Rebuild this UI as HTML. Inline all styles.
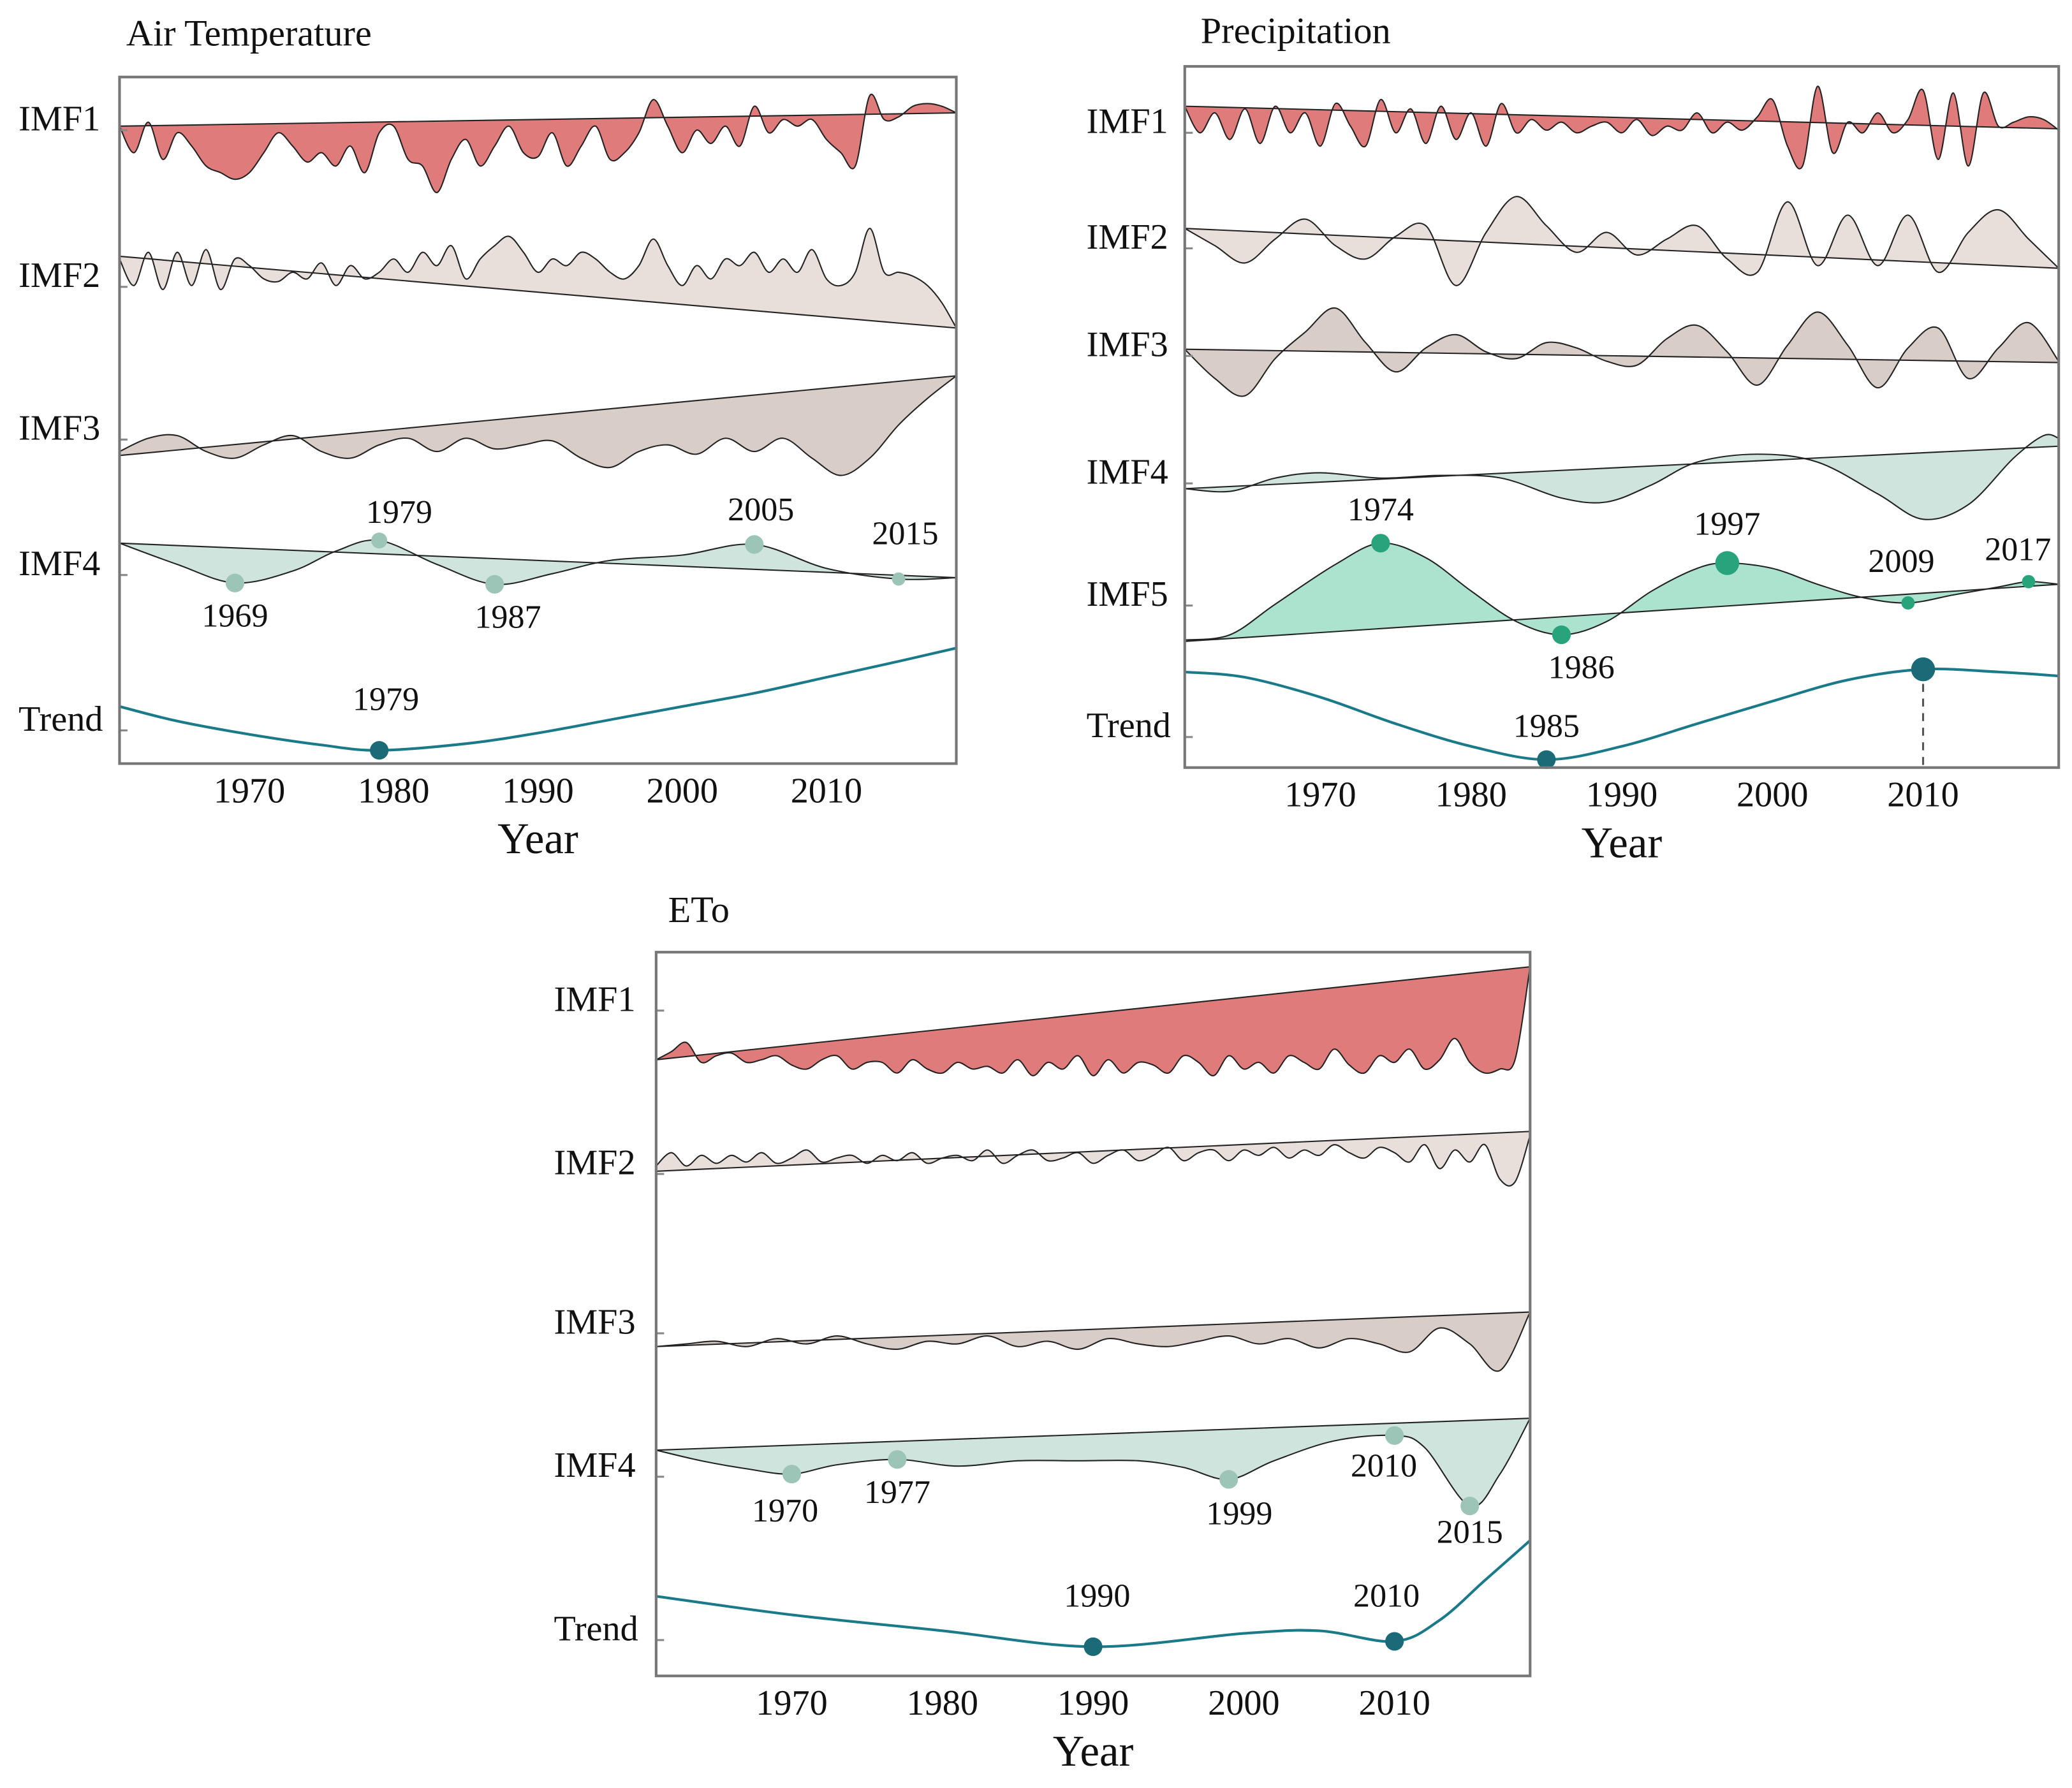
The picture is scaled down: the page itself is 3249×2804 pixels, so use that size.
<!DOCTYPE html>
<html><head><meta charset="utf-8"><style>
html,body{margin:0;padding:0;background:#fff;}
svg{display:block;}
text{font-family:"Liberation Serif",serif;fill:#111;}
</style></head><body>
<svg id="chart" width="3249" height="2804" viewBox="0 0 1560 1346.4" preserveAspectRatio="none" xmlns="http://www.w3.org/2000/svg"></svg>
<script>
// ---------- DATA ----------
const yearsAnnual = Array.from({length:59},(_,i)=>1961+i);
const yearsBiennial = Array.from({length:30},(_,i)=>1961+2*i);
const xTickYears = [1970,1980,1990,2000,2010];

// Air temperature
const atImf1 = [5,-15,8,-20,0,-10,-25,-30,-35,-30,-15,0,-10,-22,-15,-25,-10,-30,0,5,-20,-25,-45,-20,-5,-25,-10,5,-15,-18,0,-25,-10,5,-20,-15,0,25,5,-15,2,-8,5,-10,20,0,10,5,10,-5,-15,-25,28,10,12,20,22,20,15];
const atImf1Trend = [5,15];
const atImf2 = [5,-15,10,-18,10,-15,12,-18,5,0,-10,-12,-5,-10,2,-15,0,-10,-5,5,-5,10,0,15,-10,5,15,22,10,-5,5,0,10,5,-5,-10,0,20,0,-15,0,-10,5,0,10,-5,5,-5,12,-10,-15,-5,28,-5,-5,-8,-15,-28,-47];
const atImf2Trend = [7,-47];
const atImf3 = [-20,-10,-8,-20,-25,-15,-8,-20,-25,-15,-10,-20,-10,-18,-15,-12,-25,-32,-20,-15,-22,-10,-20,-10,-25,-38,-25,0,20,37];
const atImf3Trend = [-23,37];
const atImf4Years = [1961,1965,1969,1973,1976,1979,1983,1987,1991,1995,2000,2005,2010,2015,2019];
const atImf4 = [11,-5,-19,-10,5,13,-5,-20,-12,-2,2,10,-8,-16,-15];
const atImf4Trend = [11,-15];
const atTrendYears = [1961,1965,1970,1975,1979,1985,1990,1995,2000,2005,2010,2015,2019];
const atTrend = [8,-3,-13,-21,-25,-20,-12,-2,8,18,30,42,52];

// Precipitation
const prImf1 = [10,-10,5,-15,8,-18,10,-10,5,-20,12,-5,-20,15,-10,8,-18,10,-15,5,-20,12,-10,0,-8,-2,-10,-5,-2,-10,0,-12,-5,-8,5,-10,-2,-8,2,15,-20,-35,25,-25,-2,-10,5,-10,0,22,-30,20,-35,20,-5,-2,2,0,-8];
const prImf1Trend = [10,-7];
const prImf2 = [8,-5,-18,0,15,-5,-15,2,10,-35,5,32,10,-10,5,-12,0,10,-15,-25,28,-20,18,-20,18,-25,5,22,0,-22];
const prImf2Trend = [8,-22];
const prImf3 = [2,-20,-33,-5,15,33,7,-15,3,13,0,-5,7,3,-7,-10,10,20,0,-25,5,30,5,-27,3,18,-20,3,22,-7];
const prImf3Trend = [2,-8];
const prImf4Years = [1961,1964,1967,1970,1974,1978,1982,1986,1989,1992,1995,1999,2003,2007,2010,2013,2016,2018,2019];
const prImf4 = [-8,-10,0,4,0,2,0,-15,-18,-5,12,18,12,-12,-31,-20,15,32,30];
const prImf4Trend = [-8,24];
const prImf5Years = [1961,1964,1967,1971,1974,1977,1980,1983,1986,1989,1992,1995,1997,2000,2003,2006,2009,2012,2015,2017,2019];
const prImf5 = [-32,-28,-5,25,41,30,5,-18,-28,-18,5,22,26,22,10,0,-4,2,8,12,10];
const prImf5Trend = [-33,10];
const prTrendYears = [1961,1965,1970,1975,1980,1985,1990,1995,2000,2005,2010,2015,2019];
const prTrend = [34,30,15,-5,-22,-32,-22,-5,12,28,36,34,31];

// ETo
const etImf1 = [-28,-22,-15,-30,-25,-23,-30,-28,-25,-32,-35,-28,-25,-35,-30,-30,-38,-28,-35,-38,-30,-35,-33,-38,-28,-40,-30,-35,-25,-40,-28,-38,-30,-32,-38,-25,-30,-40,-25,-35,-30,-38,-25,-30,-35,-20,-32,-38,-25,-30,-20,-35,-28,-12,-30,-38,-35,-28,42];
const etImf1Trend = [-28,42];
const etImf2 = [-8,2,-8,0,-6,0,-5,2,-6,-2,4,-5,-2,0,-6,0,-4,2,-6,-2,0,-4,4,-6,0,4,-4,-2,2,-6,0,4,-4,0,6,-4,2,4,-4,4,0,6,-2,4,0,8,2,-2,6,2,-5,8,-10,4,-5,8,-18,-20,15];
const etImf2Trend = [-12,18];
const etImf3 = [-14,-12,-10,-14,-8,-12,-6,-12,-16,-10,-12,-6,-14,-10,-16,-8,-12,-14,-10,-6,-12,-8,-15,-8,-12,-18,0,-12,-32,12];
const etImf3Trend = [-14,12];
const etImf4Years = [1961,1964,1967,1970,1973,1977,1981,1985,1989,1993,1996,1999,2002,2006,2010,2012,2015,2017,2019];
const etImf4 = [8,0,-6,-10,-3,1,-4,0,0,0,-5,-14,0,15,19,10,-34,-10,32];
const etImf4Trend = [8,32];
const etTrendYears = [1961,1970,1980,1990,2000,2005,2010,2013,2016,2019];
const etTrend = [18,4,-8,-20,-10,-8,-16,0,30,60];

// ---------- DRAWING ----------
const NS="http://www.w3.org/2000/svg";
const svg=document.getElementById('chart');
function mk(tag,attrs,parent){const e=document.createElementNS(NS,tag);for(const k in attrs)e.setAttribute(k,attrs[k]);(parent||svg).appendChild(e);return e;}
function txt(s,x,y,size,anchor,parent){const t=mk('text',{x:x,y:y,'font-size':size,'text-anchor':anchor||'start','dominant-baseline':'middle'},parent);t.textContent=s;return t;}
function spline(pts){
  let d='M'+pts[0][0].toFixed(2)+','+pts[0][1].toFixed(2);
  for(let i=0;i<pts.length-1;i++){
    const p0=pts[Math.max(0,i-1)],p1=pts[i],p2=pts[i+1],p3=pts[Math.min(pts.length-1,i+2)];
    const c1=[p1[0]+(p2[0]-p0[0])/6,p1[1]+(p2[1]-p0[1])/6];
    const c2=[p2[0]-(p3[0]-p1[0])/6,p2[1]-(p3[1]-p1[1])/6];
    d+='C'+c1[0].toFixed(2)+','+c1[1].toFixed(2)+' '+c2[0].toFixed(2)+','+c2[1].toFixed(2)+' '+p2[0].toFixed(2)+','+p2[1].toFixed(2);
  }
  return d;
}
function panel(cfg){
  const g=mk('g',{});
  
  
  const xS=yr=>cfg.x0+(yr-1961)*(cfg.x1-cfg.x0)/58;
  const title=txt(cfg.title,cfg.titleX,cfg.titleY,28,'start',g);
  
  
  cfg.bands.forEach(b=>{
    const yS=v=>b.center-v*(b.k||1);
    const pts=b.values.map((v,i)=>[xS(b.years[i]),yS(v)]);
    const bx0=xS(1961),bx1=xS(2019),by0=yS(b.trend?b.trend[0]:0),by1=yS(b.trend?b.trend[1]:0);
    if(b.fill){
      const f=mk('path',{d:spline(pts)+'L'+bx1+','+by1+'L'+bx0+','+by0+'Z',fill:b.fill,stroke:'none'},g);
      
      
      const bl=mk('line',{x1:bx0,y1:by0,x2:bx1,y2:by1,stroke:'#222','stroke-width':1},g);
      
      
    }
    const ln=mk('path',{d:spline(pts),fill:'none',stroke:b.stroke||'#222','stroke-width':b.sw||1},g);
    
    
    const lab=txt(b.label,cfg.labelX,b.labelY,27,'start',g);
    
    
    const tk=mk('line',{x1:cfg.x0,x2:cfg.x0+6,y1:b.labelY+6,y2:b.labelY+6,stroke:'#888','stroke-width':1.5},g);
    
    
    (b.marks||[]).forEach(m=>{
      const i=b.years.indexOf(m.yr);
      const cx=xS(m.yr),cy=yS(b.values[i]);
      if(m.dash){const dl=mk('line',{x1:cx,x2:cx,y1:cy,y2:cfg.y1,stroke:'#555','stroke-width':1.5,'stroke-dasharray':'6,5'},g);
        }
      const c=mk('circle',{cx:cx,cy:cy,r:m.r||7,fill:b.markColor},g);
      
      
      if(!m.noLabel){
        const ml=txt(String(m.yr),cx+(m.dx||0),cy+m.dy,25,'middle',g);
        
        
      }
    });
  });
  const fr=mk('rect',{x:cfg.x0,y:cfg.y0,width:cfg.x1-cfg.x0,height:cfg.y1-cfg.y0,fill:'none',stroke:'#777','stroke-width':2},g);
  
  
  xTickYears.forEach(yr=>{
    const t=txt(String(yr),xS(yr),cfg.y1+23,27,'middle',g);
    
    
  });
  const xt=txt('Year',(cfg.x0+cfg.x1)/2,cfg.y1+60,33,'middle',g);
  
  
}
const RED='#e07b7b',L1='#e8dfdb',L2='#d8cdc7',GL='#cfe4dd',MINT='#acE3cf',TEAL='#1b7a89',DOT='#1a6a78',LG='#9cc5b8',GR='#28a47c';

panel({name:'air-temperature',title:'Air Temperature',titleX:95,titleY:28,x0:90,x1:720,y0:58,y1:575,labelX:14,bands:[
 {label:'IMF1',labelY:92,center:100,years:yearsAnnual,values:atImf1,trend:atImf1Trend,fill:RED},
 {label:'IMF2',labelY:210,center:200,years:yearsAnnual,values:atImf2,trend:atImf2Trend,fill:L1},
 {label:'IMF3',labelY:325,center:320,years:yearsBiennial,values:atImf3,trend:atImf3Trend,fill:L2},
 {label:'IMF4',labelY:427,center:420,years:atImf4Years,values:atImf4,trend:atImf4Trend,fill:GL,markColor:LG,marks:[
   {yr:1969,dy:27},{yr:1979,dy:-19,dx:15,r:6},{yr:1987,dy:27,dx:10},{yr:2005,dy:-24,dx:5},{yr:2015,dy:-32,dx:5,r:5}]},
 {label:'Trend',labelY:544,center:540,years:atTrendYears,values:atTrend,stroke:TEAL,sw:2,markColor:DOT,marks:[{yr:1979,dy:-36,dx:5}]}
]});
panel({name:'precipitation',title:'Precipitation',titleX:904,titleY:26,x0:892,x1:1550,y0:50,y1:578,labelX:818,bands:[
 {label:'IMF1',labelY:94,center:90,years:yearsAnnual,values:prImf1,trend:prImf1Trend,fill:RED},
 {label:'IMF2',labelY:181,center:180,years:yearsBiennial,values:prImf2,trend:prImf2Trend,fill:L1},
 {label:'IMF3',labelY:262,center:265,years:yearsBiennial,values:prImf3,trend:prImf3Trend,fill:L2},
 {label:'IMF4',labelY:358,center:360,years:prImf4Years,values:prImf4,trend:prImf4Trend,fill:GL},
 {label:'IMF5',labelY:450,center:450,years:prImf5Years,values:prImf5,trend:prImf5Trend,fill:MINT,markColor:GR,marks:[
   {yr:1974,dy:-23},{yr:1986,dy:27,dx:15},{yr:1997,dy:-27,r:9},{yr:2009,dy:-29,dx:-5,r:5},{yr:2017,dy:-22,dx:-8,r:5}]},
 {label:'Trend',labelY:549,center:540,years:prTrendYears,values:prTrend,stroke:TEAL,sw:2,markColor:DOT,marks:[{yr:1985,dy:-23},{yr:2010,dy:0,r:9,dash:true,noLabel:true}]}
]});
panel({name:'eto',title:'ETo',titleX:503,titleY:688,x0:494,x1:1152,y0:717,y1:1262,labelX:417,bands:[
 {label:'IMF1',labelY:755,center:770,years:yearsAnnual,values:etImf1,trend:etImf1Trend,fill:RED},
 {label:'IMF2',labelY:878,center:870,years:yearsAnnual,values:etImf2,trend:etImf2Trend,fill:L1},
 {label:'IMF3',labelY:998,center:1000,years:yearsBiennial,values:etImf3,trend:etImf3Trend,fill:L2},
 {label:'IMF4',labelY:1106,center:1100,years:etImf4Years,values:etImf4,trend:etImf4Trend,fill:GL,markColor:LG,marks:[
   {yr:1970,dy:30,dx:-5},{yr:1977,dy:27},{yr:1999,dy:28,dx:8},{yr:2010,dy:25,dx:-8},{yr:2015,dy:22}]},
 {label:'Trend',labelY:1229,center:1220,years:etTrendYears,values:etTrend,stroke:TEAL,sw:2,markColor:DOT,marks:[{yr:1990,dy:-36,dx:3},{yr:2010,dy:-32,dx:-6}]}
]});
</script>
</body></html>
